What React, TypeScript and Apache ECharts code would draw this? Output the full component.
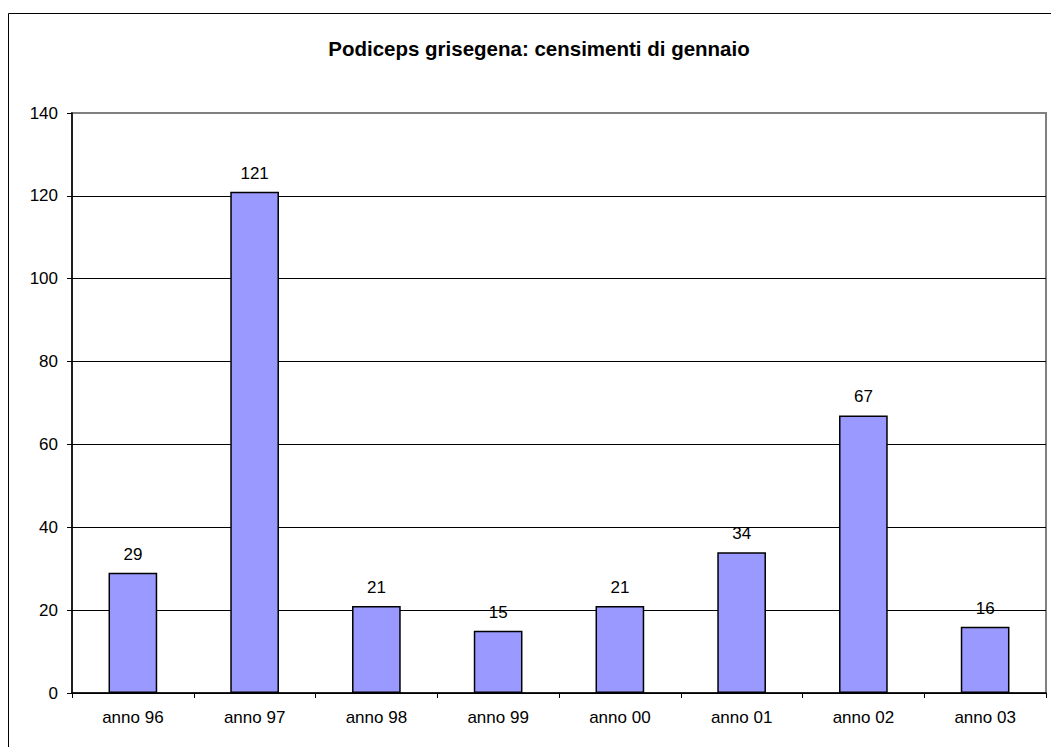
import React, { useEffect, useRef } from "react";
import * as echarts from "echarts";

const categories = ["anno 96", "anno 97", "anno 98", "anno 99", "anno 00", "anno 01", "anno 02", "anno 03"];
const values = [29, 121, 21, 15, 21, 34, 67, 16];
const titleText = "Podiceps grisegena: censimenti di gennaio";

export default function App() {
  const ref = useRef<HTMLDivElement>(null);
  useEffect(() => {
    const chart = echarts.init(ref.current!, null, { renderer: "svg" });
    const font = "Liberation Sans, Arial, sans-serif";
    chart.setOption({
      animation: false,
      backgroundColor: "#ffffff",
      textStyle: { fontFamily: font },
      title: {
        text: titleText,
        left: 534,
        top: 33,
        textAlign: "center",
        textStyle: { fontFamily: font, fontSize: 20.5, fontWeight: "bold", color: "#000" },
      },
      graphic: [
        {
          type: "rect",
          shape: { x: 8.5, y: 13.5, width: 1200, height: 900 },
          style: { fill: "none", stroke: "#000", lineWidth: 1 },
          silent: true,
          z: -1,
        },
      ],
      grid: {
        left: 72,
        right: 5,
        top: 113,
        bottom: 54,
        show: true,
        borderColor: "#808080",
        borderWidth: 2,
        backgroundColor: "transparent",
      },
      xAxis: {
        type: "category",
        data: categories,
        axisLine: { lineStyle: { color: "#000", width: 1.5 } },
        axisTick: { show: true, length: 5, lineStyle: { color: "#000", width: 1 } },
        axisLabel: { color: "#000", fontSize: 17, margin: 16, fontFamily: font },
      },
      yAxis: {
        type: "value",
        min: 0,
        max: 140,
        interval: 20,
        axisLine: { show: true, lineStyle: { color: "#000", width: 1.5 } },
        axisTick: { show: true, length: 5, lineStyle: { color: "#000", width: 1 } },
        axisLabel: { color: "#000", fontSize: 17, margin: 14, fontFamily: font },
        splitLine: {
          show: true,
          lineStyle: {
            color: ["#000", "#000", "#000", "#000", "#000", "#000", "#000", "#808080"],
            width: 1,
          },
        },
      },
      series: [
        {
          type: "bar",
          data: values,
          barWidth: "40%",
          itemStyle: { color: "#9999FF", borderColor: "#000", borderWidth: 1.5 },
          label: {
            show: true,
            position: "top",
            distance: 10,
            color: "#000",
            fontSize: 17,
            fontFamily: font,
          },
        },
      ],
    });
    return () => chart.dispose();
  }, []);
  return (
    <div
      ref={ref}
      style={{ position: "absolute", left: 0, top: 0, width: 1051, height: 747 }}
    />
  );
}
